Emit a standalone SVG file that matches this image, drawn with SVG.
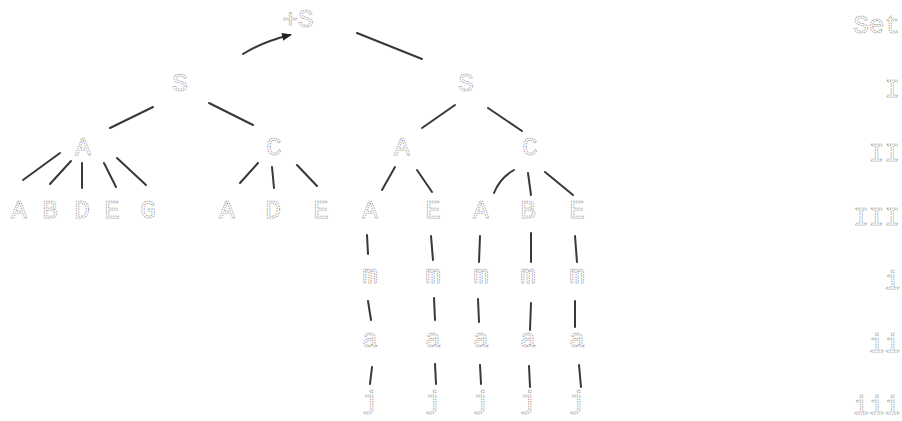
<svg xmlns="http://www.w3.org/2000/svg" width="902" height="421" viewBox="0 0 902 421">
<style>
.t{font-family:"Liberation Mono","DejaVu Sans Mono",monospace;font-size:26px;fill:none;stroke:#8c8c8c;stroke-width:0.75;stroke-dasharray:1.4 1;text-anchor:middle}
.r{text-anchor:end}
.c{fill:none;stroke:#383838;stroke-width:2;stroke-linecap:round}
</style>
<defs>
<marker id="ah" viewBox="0 0 10 10" refX="8" refY="5" markerWidth="5" markerHeight="5" orient="auto"><path d="M0,1 L10,5 L0,9 Z" fill="#222"/></marker>
</defs>
<rect width="902" height="421" fill="#fff"/>
<g id="connectors">
<path class="c" d="M243,54 Q262,42 290,35" marker-end="url(#ah)"/>
<path class="c" d="M357,33 L422,59"/>
<path class="c" d="M153,107 L110,128"/>
<path class="c" d="M209,103 L253,125"/>
<path class="c" d="M60,153 L23,180"/>
<path class="c" d="M71,161 L50,184"/>
<path class="c" d="M82,163 L82,188"/>
<path class="c" d="M104,163 L116,187"/>
<path class="c" d="M117,158 L146,185"/>
<path class="c" d="M258,163 L240,183"/>
<path class="c" d="M272,167 L274,188"/>
<path class="c" d="M297,165 L317,186"/>
<path class="c" d="M455,105 L422,128"/>
<path class="c" d="M488,108 L522,131"/>
<path class="c" d="M395,167 L382,190"/>
<path class="c" d="M417,170 L432,192"/>
<path class="c" d="M514,170 Q500,178 494,193"/>
<path class="c" d="M528,173 L531,195"/>
<path class="c" d="M545,172 L573,195"/>
<path class="c" d="M367,235 L368,254"/>
<path class="c" d="M368,301 L371,320"/>
<path class="c" d="M372,367 L370,384"/>
<path class="c" d="M431,236 L433,260"/>
<path class="c" d="M434,298 L435,320"/>
<path class="c" d="M435,364 L436,384"/>
<path class="c" d="M480,236 L479,262"/>
<path class="c" d="M478,299 L479,322"/>
<path class="c" d="M480,365 L481,384"/>
<path class="c" d="M531,233 L531,262"/>
<path class="c" d="M531,303 L530,330"/>
<path class="c" d="M529,366 L530,387"/>
<path class="c" d="M575,236 L577,262"/>
<path class="c" d="M575,301 L575,327"/>
<path class="c" d="M579,365 L581,387"/>
</g>
<g id="root"><text class="t" x="298" y="27">+S</text></g>
<g id="S1"><text class="t" x="180" y="91">S</text></g>
<g id="S2"><text class="t" x="466" y="91">S</text></g>
<g id="A1"><text class="t" x="83" y="155">A</text></g>
<g id="C1"><text class="t" x="274" y="155">C</text></g>
<g id="A2"><text class="t" x="402" y="155">A</text></g>
<g id="C2"><text class="t" x="530" y="155">C</text></g>
<g id="L1"><text class="t" x="19" y="218">A</text></g>
<g id="L2"><text class="t" x="50" y="218">B</text></g>
<g id="L3"><text class="t" x="82" y="218">D</text></g>
<g id="L4"><text class="t" x="112" y="218">E</text></g>
<g id="L5"><text class="t" x="148" y="218">G</text></g>
<g id="L6"><text class="t" x="227" y="218">A</text></g>
<g id="L7"><text class="t" x="273" y="218">D</text></g>
<g id="L8"><text class="t" x="321" y="218">E</text></g>
<g id="L9"><text class="t" x="370" y="218">A</text></g>
<g id="L10"><text class="t" x="433" y="218">E</text></g>
<g id="L11"><text class="t" x="481" y="218">A</text></g>
<g id="L12"><text class="t" x="528" y="218">B</text></g>
<g id="L13"><text class="t" x="577" y="218">E</text></g>
<g id="m1"><text class="t" x="370" y="283">m</text></g>
<g id="m2"><text class="t" x="433" y="283">m</text></g>
<g id="m3"><text class="t" x="481" y="283">m</text></g>
<g id="m4"><text class="t" x="528" y="283">m</text></g>
<g id="m5"><text class="t" x="577" y="283">m</text></g>
<g id="a1"><text class="t" x="370" y="347">a</text></g>
<g id="a2"><text class="t" x="433" y="347">a</text></g>
<g id="a3"><text class="t" x="481" y="347">a</text></g>
<g id="a4"><text class="t" x="528" y="347">a</text></g>
<g id="a5"><text class="t" x="577" y="347">a</text></g>
<g id="j1"><text class="t" x="370" y="409">j</text></g>
<g id="j2"><text class="t" x="433" y="409">j</text></g>
<g id="j3"><text class="t" x="481" y="409">j</text></g>
<g id="j4"><text class="t" x="528" y="409">j</text></g>
<g id="j5"><text class="t" x="577" y="409">j</text></g>
<g id="labels">
<text class="t r" x="900" y="33">Set</text>
<text class="t r" x="900" y="97">I</text>
<text class="t r" x="900" y="161">II</text>
<text class="t r" x="900" y="225">III</text>
<text class="t r" x="900" y="289">i</text>
<text class="t r" x="900" y="352">ii</text>
<text class="t r" x="900" y="414">iii</text>
</g>
</svg>
